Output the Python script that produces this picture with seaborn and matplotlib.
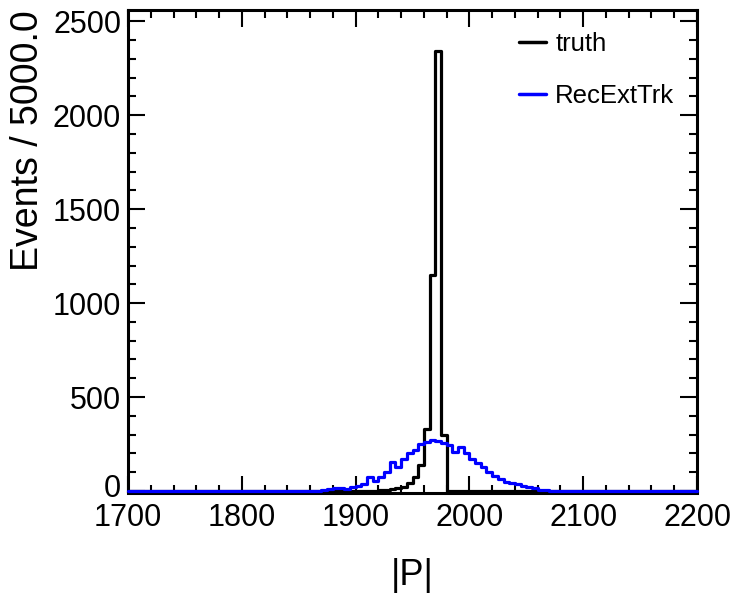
import numpy as np
import pandas as pd
import matplotlib
matplotlib.use("Agg")
import matplotlib.pyplot as plt
from matplotlib.ticker import MultipleLocator
from matplotlib.transforms import ScaledTranslation
import seaborn as sns

# ---- data ----
bin_edges = list(range(1700, 2205, 5))          # 100 bins of width 5
bin_centers = [(a + b) / 2 for a, b in zip(bin_edges[:-1], bin_edges[1:])]

truth_counts = [0] * 44 + [3, 5, 8, 15, 22, 45, 76, 140, 330, 1150, 2340, 300] + [0] * 44
rec_counts = ([0] * 32 +
              [1, 2, 3, 10, 18, 18, 8, 20, 28, 35, 73, 55, 76, 103, 156, 130,
               170, 200, 220, 250, 263, 270, 265, 257, 245, 210, 236, 200, 169,
               148, 128, 100, 82, 62, 46, 40, 36, 27, 20, 16, 6, 3, 2, 1] +
              [0] * 24)

x_ticks = [1700, 1800, 1900, 2000, 2100, 2200]
y_ticks = [0, 500, 1000, 1500, 2000, 2500]
series_names = ["truth", "RecExtTrk"]

# ---- plot ----
sns.set_style("ticks")
plt.rcParams['font.family'] = ['Liberation Sans', 'DejaVu Sans']
plt.rcParams['text.color'] = 'black'
plt.rcParams['axes.labelcolor'] = 'black'
plt.rcParams['xtick.color'] = 'black'
plt.rcParams['ytick.color'] = 'black'

fig = plt.figure(figsize=(7.35, 6.0), dpi=100)
ax = fig.add_axes([128 / 735, 1 - 491 / 600, (697 - 128) / 735, (491 - 10) / 600])

df_truth = pd.DataFrame({"P": bin_centers, "w": truth_counts})
df_rec = pd.DataFrame({"P": bin_centers, "w": rec_counts})

sns.histplot(data=df_truth, x="P", weights="w", bins=bin_edges, element="step",
             fill=False, color="black", linewidth=2.3, ax=ax, label=series_names[0])
sns.histplot(data=df_rec, x="P", weights="w", bins=bin_edges, element="step",
             fill=False, color="#0000ff", linewidth=2.3, ax=ax, label=series_names[1])
for ln in ax.lines:
    ln.set_zorder(4)
    ln.set_clip_on(False)

ax.set_xlim(1700, 2200)
ax.set_ylim(0, 2560)
ax.set_xticks(x_ticks)
ax.set_yticks(y_ticks)
ax.xaxis.set_minor_locator(MultipleLocator(20))
ax.yaxis.set_minor_locator(MultipleLocator(100))
ax.tick_params(which="both", direction="in", top=True, right=True, width=1.5,
               labelsize=22, colors="black")
ax.tick_params(which="major", length=12)
ax.tick_params(which="minor", length=6)
ax.tick_params(axis="x", pad=7)
ax.tick_params(axis="y", pad=5)
for s in ax.spines.values():
    s.set_linewidth(2.2)
    s.set_color("black")
ax.spines["bottom"].set_position(("outward", 1.6))

# nudge the "0" y label up a little, as in the reference
fig.canvas.draw()
for lab in ax.get_yticklabels():
    if lab.get_text() == "0":
        lab.set_transform(lab.get_transform() + ScaledTranslation(0, 4 / 72, fig.dpi_scale_trans))

ax.set_xlabel("|P|", fontsize=26, labelpad=18, color="black")
ax.set_ylabel("Events / 5000.0", fontsize=27, labelpad=5, loc="top", color="black")

leg = ax.legend(loc="upper left", bbox_to_anchor=(0.647, 1.002), frameon=False,
                fontsize=18.5, handlelength=1.05, handletextpad=0.35,
                labelspacing=1.1)
for t in leg.get_texts():
    t.set_color("black")
for h in leg.legend_handles:
    h.set_linewidth(2.5)

fig.savefig("out.png", dpi=100)
